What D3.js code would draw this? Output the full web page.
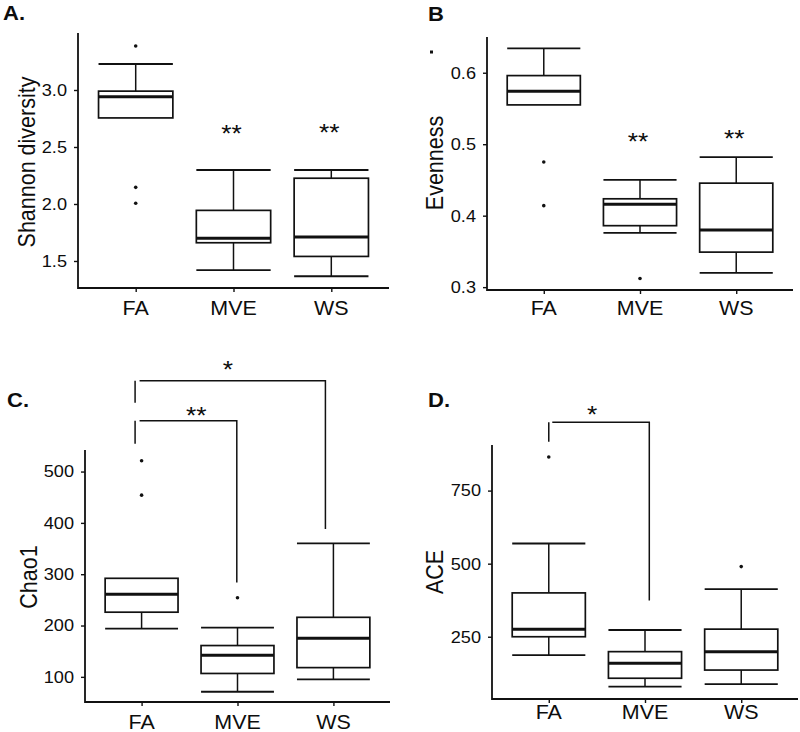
<!DOCTYPE html>
<html><head><meta charset="UTF-8">
<script src="https://cdn.jsdelivr.net/npm/d3@7/dist/d3.min.js"></script>
<style>
body{margin:0;background:#fff}
svg{display:block}
text{font-family:"Liberation Sans",Arial,sans-serif;fill:#0d0d0d}
</style>
</head><body><script>
const groups = ["FA", "MVE", "WS"];

// box stats per group: [lower whisker, Q1, median, Q3, upper whisker]
const shannonBoxes = [[2.755, 2.755, 2.94, 2.99, 3.228], [1.42, 1.66, 1.70, 1.944, 2.298], [1.366, 1.54, 1.71, 2.226, 2.298]];
const shannonOutliers = [[3.386, 2.146, 2.006], [], []];
const shannonTicks = [1.5, 2.0, 2.5, 3.0];
const shannonStars = [null, ["**", 2.665], ["**", 2.675]];

const evenBoxes = [[0.555, 0.555, 0.574, 0.596, 0.634], [0.376, 0.386, 0.416, 0.4236, 0.45], [0.32, 0.349, 0.38, 0.4455, 0.482]];
const evenOutliers = [[0.475, 0.414], [0.312], []];
const evenTicks = [0.3, 0.4, 0.5, 0.6];
const evenStars = [null, ["**", 0.511], ["**", 0.516]];
const evenStray = 0.629;   // lone dot left of the B axis

const chaoBoxes = [[194, 226, 261, 292, 292], [71, 106.6, 142, 161, 196], [95, 118, 175, 216, 360]];
const chaoOutliers = [[521, 454], [254], []];
const chaoTicks = [100, 200, 300, 400, 500];
const chaoBrackets = [
  { from: "FA", to: "WS", y: 677, leftEnd: 634, rightEnd: 388, label: "*", labelY: 710, labelT: 0.45 },
  { from: "FA", to: "MVE", y: 599, leftEnd: 554, rightEnd: 284, label: "**", labelY: 619, labelT: 0.57 }
];

const aceBoxes = [[187, 250, 276, 400, 569], [79, 108, 159, 199, 273], [88, 136, 199, 276, 413]];
const aceOutliers = [[865], [], [490]];
const aceTicks = [250, 500, 750];
const aceBrackets = [
  { from: "FA", to: "MVE", y: 984, leftEnd: 917, rightEnd: 374, label: "*", labelY: 1028, labelT: 0.45 }
];

// layout per panel
const panels = [
  { title: "A.", tx: 3, ty: 20, ylab: "Shannon diversity", lx: 35, ly: 162,
    l: 78, r: 389, t: 33, b: 288, domain: [1.263, 3.5], fmt: d3.format(".1f"), xdy: 27,
    boxes: shannonBoxes, outliers: shannonOutliers, ticks: shannonTicks, stars: shannonStars },
  { title: "B", tx: 428, ty: 21, ylab: "Evenness", lx: 443, ly: 163,
    l: 487, r: 793, t: 37, b: 290, domain: [0.296, 0.65], fmt: d3.format(".1f"), xdy: 25,
    boxes: evenBoxes, outliers: evenOutliers, ticks: evenTicks, stars: evenStars, stray: evenStray },
  { title: "C.", tx: 7, ty: 407, ylab: "Chao1", lx: 37, ly: 577,
    l: 85, r: 390, t: 450, b: 702, domain: [51, 542], fmt: d3.format("d"), xdy: 27,
    boxes: chaoBoxes, outliers: chaoOutliers, ticks: chaoTicks, brackets: chaoBrackets,
    nudge: [[-6.5, -2, -8], [-6.5, -2, -0.7]] },
  { title: "D.", tx: 428, ty: 407, ylab: "ACE", lx: 443, ly: 572,
    l: 492, r: 798, t: 445, b: 699, domain: [37, 906], fmt: d3.format("d"), xdy: 20,
    boxes: aceBoxes, outliers: aceOutliers, ticks: aceTicks, brackets: aceBrackets,
    nudge: [[0, 3.5, 4.3]] }
];

const W = 800, H = 732, ink = "#111", SX = 1.1;
const svg = d3.select("body").append("svg").attr("width", W).attr("height", H);

const txt = (g, x, y, s, size, anchor, weight) =>
  g.append("text").attr("transform", `translate(${x},${y}) scale(${SX},1)`)
    .attr("text-anchor", anchor || "start").attr("font-size", size)
    .attr("font-weight", weight || "normal").text(s);

panels.forEach(p => {
  const g = svg.append("g");
  const x = d3.scalePoint().domain(groups).range([p.l, p.r]).padding(0.59);
  const y = d3.scaleLinear().domain(p.domain).range([p.b, p.t]);
  const bw = x.step() * 0.76;

  // axes
  const ya = g.append("g").attr("transform", `translate(${p.l},0)`)
    .call(d3.axisLeft(y).tickValues(p.ticks).tickFormat(p.fmt).tickSize(4).tickPadding(7));
  const xa = g.append("g").attr("transform", `translate(0,${p.b})`)
    .call(d3.axisBottom(x).tickSize(4).tickFormat(""));
  [ya, xa].forEach(a => {
    a.select(".domain").remove();
    a.selectAll("line").attr("stroke", ink).attr("stroke-width", 1.4);
  });
  ya.selectAll("text").remove();
  p.ticks.forEach(v => txt(g, p.l - 11, y(v) + 5.9, p.fmt(v), 16.5, "end"));
  groups.forEach(k => txt(g, x(k), p.b + p.xdy, k, 19.5, "middle"));
  g.append("path").attr("d", `M${p.l},${p.t}V${p.b}H${p.r}`)
    .attr("fill", "none").attr("stroke", ink).attr("stroke-width", 1.8);

  // titles
  txt(g, p.tx, p.ty, p.title, 20, "start", "bold");
  g.append("text").attr("transform", `translate(${p.lx},${p.ly}) rotate(-90) scale(1,${SX})`)
    .attr("text-anchor", "middle").attr("font-size", 21.5).text(p.ylab);

  // boxes
  groups.forEach((k, i) => {
    const [lo, q1, med, q3, hi] = p.boxes[i];
    const cx = x(k);
    const line = (x1, y1, x2, y2, w) => g.append("line")
      .attr("x1", x1).attr("y1", y1).attr("x2", x2).attr("y2", y2)
      .attr("stroke", ink).attr("stroke-width", w);
    if (hi > q3) { line(cx, y(hi), cx, y(q3), 1.5); line(cx - bw / 2, y(hi), cx + bw / 2, y(hi), 1.8); }
    if (lo < q1) { line(cx, y(q1), cx, y(lo), 1.5); line(cx - bw / 2, y(lo), cx + bw / 2, y(lo), 1.8); }
    g.append("rect").attr("x", cx - bw / 2).attr("y", y(q3)).attr("width", bw)
      .attr("height", y(q1) - y(q3)).attr("fill", "#fff").attr("stroke", ink).attr("stroke-width", 1.7);
    line(cx - bw / 2, y(med), cx + bw / 2, y(med), 3);
    p.outliers[i].forEach(v => g.append("circle").attr("cx", cx).attr("cy", y(v)).attr("r", 1.8).attr("fill", ink));
    if (p.stars && p.stars[i]) {
      const [s, v] = p.stars[i];
      txt(g, cx - 2, y(v) + 0.58 * 24, s, 24, "middle");
    }
  });

  if (p.stray != null) g.append("rect").attr("x", p.l - 57).attr("y", y(p.stray) - 1.5)
    .attr("width", 3).attr("height", 3).attr("fill", ink);

  // significance brackets
  (p.brackets || []).forEach((b, j) => {
    const [dl, dg, dr] = p.nudge[j];
    const x0 = x(b.from), x1 = x(b.to) + dr;
    g.append("path")
      .attr("d", `M${x0 + dl},${y(b.y)}V${y(b.leftEnd)}M${x0 + dg},${y(b.y)}H${x1}V${y(b.rightEnd)}`)
      .attr("fill", "none").attr("stroke", ink).attr("stroke-width", 1.5);
    const lxp = x(b.from) + (x(b.to) - x(b.from)) * b.labelT;
    txt(g, lxp, y(b.labelY) + 0.58 * 24, b.label, 24, "middle");
  });
});
</script></body></html>
